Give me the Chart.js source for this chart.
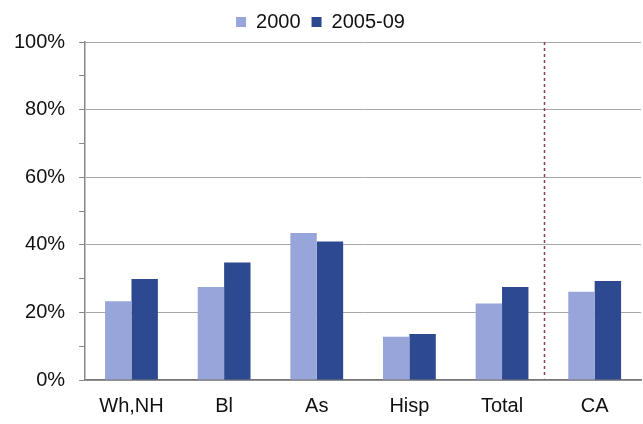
<!DOCTYPE html>
<html>
<head>
<meta charset="utf-8">
<script src="https://cdn.jsdelivr.net/npm/chart.js@4/dist/chart.umd.min.js"></script>
<style>
  html, body { margin: 0; padding: 0; background: #fff; }
  #wrap { width: 643px; height: 424px; }
</style>
</head>
<body>
<div id="wrap"><canvas id="chart"></canvas></div>
<script>
const categories = ['Wh,NH', 'Bl', 'As', 'Hisp', 'Total', 'CA'];
const series2000 = [23.3, 27.5, 43.5, 12.8, 22.6, 26.1];
const series2005 = [29.9, 34.8, 41.0, 13.6, 27.5, 29.3];
const seriesNames = ['2000', '2005-09'];
const dividerPos = 4.45; // dashed line between Total and CA (category units)

const FONT = 'Liberation Sans, Arial, sans-serif';

// dashed divider line, placed through the x scale
const dividerLine = {
  id: 'dividerLine',
  afterDatasetsDraw(chart) {
    const x = chart.scales.x, y = chart.scales.y;
    const px = Math.round(x.getPixelForValue(dividerPos)) + 0.5;
    const c = chart.ctx;
    c.save();
    c.strokeStyle = '#8a3f55';
    c.lineWidth = 1.5;
    c.setLineDash([3, 3]);
    c.beginPath();
    c.moveTo(px, y.getPixelForValue(100));
    c.lineTo(px, y.getPixelForValue(0.5));
    c.stroke();
    c.restore();
  }
};

new Chart(document.getElementById('chart'), {
  type: 'bar',
  data: {
    labels: categories,
    datasets: [
      { label: seriesNames[0], data: series2000, backgroundColor: '#98a5db' },
      { label: seriesNames[1], data: series2005, backgroundColor: '#2d4a90' }
    ]
  },
  options: {
    responsive: true,
    maintainAspectRatio: false,
    animation: false,
    layout: { padding: { top: 1, right: 2, left: 0, bottom: 0 } },
    datasets: { bar: { categoryPercentage: 0.57, barPercentage: 1.0 } },
    plugins: {
      tooltip: { enabled: false },
      legend: {
        position: 'top',
        labels: {
          boxWidth: 10, boxHeight: 10, padding: 11,
          color: '#111',
          font: { family: FONT, size: 20 }
        }
      }
    },
    scales: {
      x: {
        afterFit: s => { s.height = 44; },
        grid: { display: false, drawTicks: false },
        border: { color: '#777', width: 1.5 },
        ticks: {
          color: '#111', padding: 14,
          font: { family: FONT, size: 20 }
        }
      },
      y: {
        min: 0, max: 100,
        border: { color: '#888', width: 1.5 },
        grid: {
          color: ctx => (ctx.tick && ctx.tick.value % 20 === 0) ? '#a8a8a8' : 'rgba(0,0,0,0)',
          tickColor: '#888',
          tickLength: 6,
          lineWidth: 1
        },
        ticks: {
          stepSize: 10,
          color: '#111', padding: 14,
          font: { family: FONT, size: 20 },
          callback: v => v % 20 === 0 ? v + '%' : ''
        }
      }
    }
  },
  plugins: [dividerLine]
});
</script>
</body>
</html>
